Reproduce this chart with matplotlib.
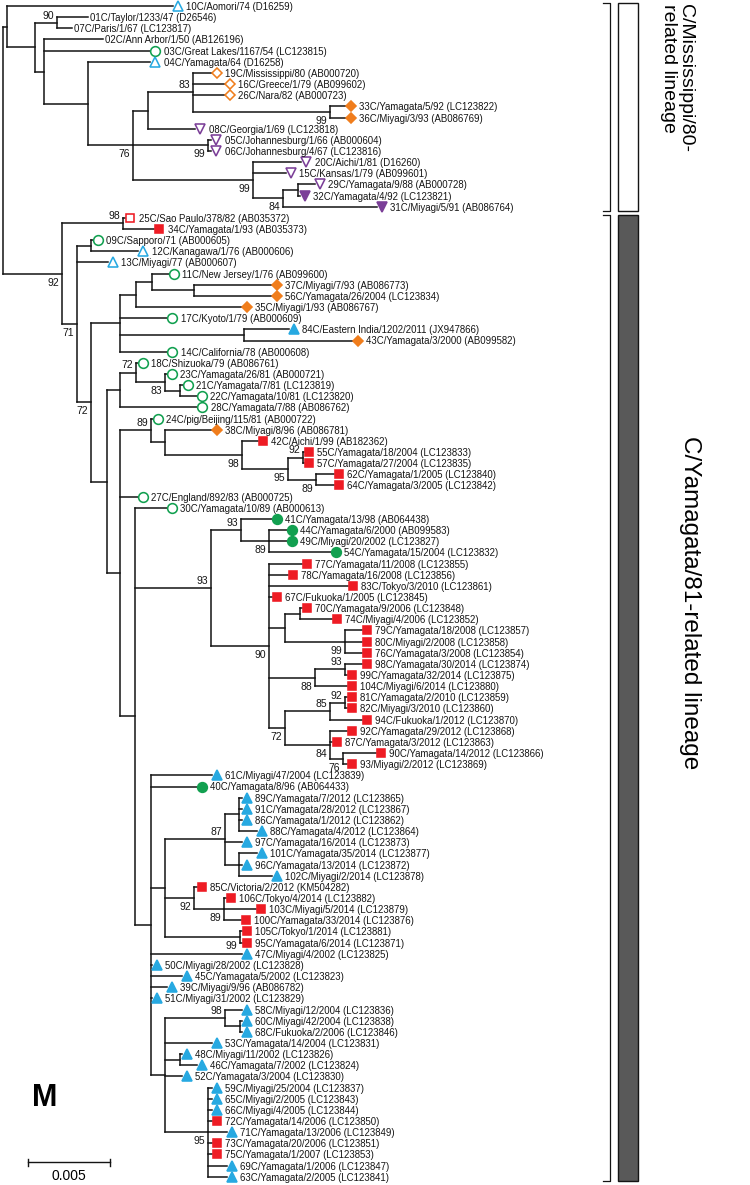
import matplotlib
matplotlib.use('Agg')
import matplotlib.pyplot as plt
from matplotlib.collections import LineCollection
from matplotlib.patches import Rectangle
from matplotlib.transforms import offset_copy, blended_transform_factory

plt.rcParams['font.family'] = ['Liberation Sans', 'DejaVu Sans']

# M gene tree, branch lengths in substitutions/site, bootstrap values >= 70
TREE = (
    "((10C:0.01008,((01C:0.00188,07C:0.00091)90:0.00134,"
    "(02C:0.00358,03C:0.00644,(04C:0.00377,"
    "(((19C:0.00115,16C:0.00194,26C:0.00194,(33C:0.00097,36C:0.00097)99:0.00832)83:0.00273,08C:0.00286):0.00091,"
    "(05C:0.00018,06C:0.00018)99:0.00456,"
    "(20C:0.00292,15C:0.00200,((29C:0.00103,32C:0.00012):0.00091,31C:0.00571)84:0.00182)99:0.00729"
    ")76:0.00273):0.00267):0.00055):0.00170):0.00024,"
    "((25C:0.00012,34C:0.00188)98:0.00371,"
    "((09C:0.00012,12C:0.00286):0.00085,13C:0.00188,"
    "((((11C:0.00103,(37C:0.00474,56C:0.00474):0.00255):0.00097,35C:0.00644):0.00097,"
    "17C:0.00286,(84C:0.00273,43C:0.00662):0.00753,14C:0.00286):0.00176,"
    "(((18C:0.00012,(23C:0.00012,(21C:0.00018,22C:0.00103):0.00091)83:0.00176)72:0.00097,28C:0.00468):0.00079,"
    "((24C:0.00012,(38C:0.00286,(42C:0.00097,((55C:0.00006,57C:0.00006)92:0.00091,"
    "(62C:0.00109,64C:0.00109)89:0.00170)95:0.00279)98:0.00468):0.00085)89:0.00188,"
    "27C:0.00109,"
    "(30C:0.00194,"
    "((41C:0.00188,(44C:0.00109,49C:0.00109,54C:0.00377)89:0.00170)93:0.00182,"
    "(77C:0.00200,78C:0.00115,83C:0.00480,67C:0.00018,"
    "((70C:0.00012,74C:0.00194):0.00091,(79C:0.00103,80C:0.00103,76C:0.00103)99:0.00365):0.00097,"
    "((98C:0.00103,99C:0.00012)93:0.00182,104C:0.00194)88:0.00279,"
    "(((81C:0.00012,82C:0.00012)92:0.00091,94C:0.00194)85:0.00273,"
    "(92C:0.00103,87C:0.00012,(90C:0.00200,93:0.00024)76:0.00079)84:0.00273)72:0.00097"
    ")90:0.00352)93:0.00462,"
    "(61C:0.00371,40C:0.00279,"
    "(((89C:0.00018,91C:0.00018,86C:0.00018,88C:0.00109):0.00085,97C:0.00103,"
    "(101C:0.00109,96C:0.00018,102C:0.00200):0.00085)87:0.00365,"
    "(85C:0.00018,(106C:0.00012,103C:0.00194,100C:0.00103)89:0.00182)92:0.00176,"
    "(105C:0.00012,95C:0.00012)99:0.00456):0.00085,"
    "47C:0.00553,50C:0.00006,45C:0.00188,39C:0.00097,51C:0.00006,"
    "((58C:0.00103,(60C:0.00012,68C:0.00012):0.00091)98:0.00365,53C:0.00286,"
    "(48C:0.00012,46C:0.00103):0.00091,52C:0.00103,"
    "(59C:0.00024,65C:0.00024,66C:0.00024,72C:0.00024,71C:0.00115,73C:0.00024,"
    "75C:0.00024,69C:0.00115,63C:0.00115)95:0.00261):0.00085"
    "):0.00097):0.00091):0.00079):0.00097)72:0.00085)71:0.00091)92:0.00358);"
)

STRAINS = [
    "10C/Aomori/74 (D16259)", "01C/Taylor/1233/47 (D26546)", "07C/Paris/1/67 (LC123817)",
    "02C/Ann Arbor/1/50 (AB126196)", "03C/Great Lakes/1167/54 (LC123815)", "04C/Yamagata/64 (D16258)",
    "19C/Mississippi/80 (AB000720)", "16C/Greece/1/79 (AB099602)", "26C/Nara/82 (AB000723)",
    "33C/Yamagata/5/92 (LC123822)", "36C/Miyagi/3/93 (AB086769)", "08C/Georgia/1/69 (LC123818)",
    "05C/Johannesburg/1/66 (AB000604)", "06C/Johannesburg/4/67 (LC123816)", "20C/Aichi/1/81 (D16260)",
    "15C/Kansas/1/79 (AB099601)", "29C/Yamagata/9/88 (AB000728)", "32C/Yamagata/4/92 (LC123821)",
    "31C/Miyagi/5/91 (AB086764)", "25C/Sao Paulo/378/82 (AB035372)", "34C/Yamagata/1/93 (AB035373)",
    "09C/Sapporo/71 (AB000605)", "12C/Kanagawa/1/76 (AB000606)", "13C/Miyagi/77 (AB000607)",
    "11C/New Jersey/1/76 (AB099600)", "37C/Miyagi/7/93 (AB086773)", "56C/Yamagata/26/2004 (LC123834)",
    "35C/Miyagi/1/93 (AB086767)", "17C/Kyoto/1/79 (AB000609)", "84C/Eastern India/1202/2011 (JX947866)",
    "43C/Yamagata/3/2000 (AB099582)", "14C/California/78 (AB000608)", "18C/Shizuoka/79 (AB086761)",
    "23C/Yamagata/26/81 (AB000721)", "21C/Yamagata/7/81 (LC123819)", "22C/Yamagata/10/81 (LC123820)",
    "28C/Yamagata/7/88 (AB086762)", "24C/pig/Beijing/115/81 (AB000722)", "38C/Miyagi/8/96 (AB086781)",
    "42C/Aichi/1/99 (AB182362)", "55C/Yamagata/18/2004 (LC123833)", "57C/Yamagata/27/2004 (LC123835)",
    "62C/Yamagata/1/2005 (LC123840)", "64C/Yamagata/3/2005 (LC123842)", "27C/England/892/83 (AB000725)",
    "30C/Yamagata/10/89 (AB000613)", "41C/Yamagata/13/98 (AB064438)", "44C/Yamagata/6/2000 (AB099583)",
    "49C/Miyagi/20/2002 (LC123827)", "54C/Yamagata/15/2004 (LC123832)", "77C/Yamagata/11/2008 (LC123855)",
    "78C/Yamagata/16/2008 (LC123856)", "83C/Tokyo/3/2010 (LC123861)", "67C/Fukuoka/1/2005 (LC123845)",
    "70C/Yamagata/9/2006 (LC123848)", "74C/Miyagi/4/2006 (LC123852)", "79C/Yamagata/18/2008 (LC123857)",
    "80C/Miyagi/2/2008 (LC123858)", "76C/Yamagata/3/2008 (LC123854)", "98C/Yamagata/30/2014 (LC123874)",
    "99C/Yamagata/32/2014 (LC123875)", "104C/Miyagi/6/2014 (LC123880)", "81C/Yamagata/2/2010 (LC123859)",
    "82C/Miyagi/3/2010 (LC123860)", "94C/Fukuoka/1/2012 (LC123870)", "92C/Yamagata/29/2012 (LC123868)",
    "87C/Yamagata/3/2012 (LC123863)", "90C/Yamagata/14/2012 (LC123866)", "93/Miyagi/2/2012 (LC123869)",
    "61C/Miyagi/47/2004 (LC123839)", "40C/Yamagata/8/96 (AB064433)", "89C/Yamagata/7/2012 (LC123865)",
    "91C/Yamagata/28/2012 (LC123867)", "86C/Yamagata/1/2012 (LC123862)", "88C/Yamagata/4/2012 (LC123864)",
    "97C/Yamagata/16/2014 (LC123873)", "101C/Yamagata/35/2014 (LC123877)", "96C/Yamagata/13/2014 (LC123872)",
    "102C/Miyagi/2/2014 (LC123878)", "85C/Victoria/2/2012 (KM504282)", "106C/Tokyo/4/2014 (LC123882)",
    "103C/Miyagi/5/2014 (LC123879)", "100C/Yamagata/33/2014 (LC123876)", "105C/Tokyo/1/2014 (LC123881)",
    "95C/Yamagata/6/2014 (LC123871)", "47C/Miyagi/4/2002 (LC123825)", "50C/Miyagi/28/2002 (LC123828)",
    "45C/Yamagata/5/2002 (LC123823)", "39C/Miyagi/9/96 (AB086782)", "51C/Miyagi/31/2002 (LC123829)",
    "58C/Miyagi/12/2004 (LC123836)", "60C/Miyagi/42/2004 (LC123838)", "68C/Fukuoka/2/2006 (LC123846)",
    "53C/Yamagata/14/2004 (LC123831)", "48C/Miyagi/11/2002 (LC123826)", "46C/Yamagata/7/2002 (LC123824)",
    "52C/Yamagata/3/2004 (LC123830)", "59C/Miyagi/25/2004 (LC123837)", "65C/Miyagi/2/2005 (LC123843)",
    "66C/Miyagi/4/2005 (LC123844)", "72C/Yamagata/14/2006 (LC123850)", "71C/Yamagata/13/2006 (LC123849)",
    "73C/Yamagata/20/2006 (LC123851)", "75C/Yamagata/1/2007 (LC123853)", "69C/Yamagata/1/2006 (LC123847)",
    "63C/Yamagata/2/2005 (LC123841)",
]

# symbol per strain (same order): upper case = open, lower case = filled, '-' = none
# B/b blue triangle, G/g green circle, O/o orange diamond, P/p purple triangle down, R/r red square
MARKS = list(
    "B---GBOOOooPPPPPPpp"
    "RrGBBGoooGboGGGGGGGorrrrrGGgggg"
    "rrrrrrrrrrrrrrrrrrr"
    "bg" "bbbbbbbb" "rrrrrr"
    "bbbbbbbbbbbbbbb" "rbrrbb"
)

LINEAGES = [
    ("C/Mississippi/80-\nrelated lineage", "10C", "31C", "white"),
    ("C/Yamagata/81-related lineage", "25C", "63C", "#595959"),
]

BLUE, GREEN, ORANGE, PURPLE, RED = "#27a9e1", "#12a050", "#f07d1c", "#7b3f98", "#ee1c24"
SYMBOL = {"b": ("^", BLUE, 7.2), "g": ("o", GREEN, 7.0), "o": ("D", ORANGE, 5.6),
          "p": ("v", PURPLE, 7.2), "r": ("s", RED, 6.4)}


def parse(s):
    s = s.replace(" ", "")
    pos = 0

    def node():
        nonlocal pos
        n = {"children": [], "name": "", "len": 0.0}
        if s[pos] == "(":
            pos += 1
            while True:
                n["children"].append(node())
                if s[pos] == ",":
                    pos += 1
                    continue
                pos += 1
                break
        start = pos
        while s[pos] not in ":,();":
            pos += 1
        n["name"] = s[start:pos]
        if s[pos] == ":":
            pos += 1
            start = pos
            while s[pos] not in ",();":
                pos += 1
            n["len"] = float(s[start:pos])
        return n
    return node()


root = parse(TREE)
leaves, nodes = [], []


def place(n, x0, parent):
    n["x"] = x0 + n["len"]
    n["parent"] = parent
    nodes.append(n)
    if not n["children"]:
        n["y"] = len(leaves)
        leaves.append(n)
    else:
        for c in n["children"]:
            place(c, n["x"], n)
        n["y"] = (n["children"][0]["y"] + n["children"][-1]["y"]) / 2


place(root, 0.0, None)

label_of = {s.split("/")[0]: s for s in STRAINS}
mark_of = {s.split("/")[0]: m for s, m in zip(STRAINS, MARKS)}
row_of = {n["name"]: n["y"] for n in leaves}

fig = plt.figure(figsize=(7.5, 11.85), dpi=100)
ax = fig.add_axes([0, 0, 1, 1])
ax.axis("off")
px = 0.005 / 82.3  # one pixel in branch-length units
ax.set_xlim(-3 * px, 747 * px)
ax.set_ylim(1179 / 11.15, -6 / 11.15)

segs = []
for n in nodes:
    if n["parent"] is not None:
        segs.append([(n["parent"]["x"], n["y"]), (n["x"], n["y"])])
    if n["children"]:
        segs.append([(n["x"], n["children"][0]["y"]), (n["x"], n["children"][-1]["y"])])
ax.add_collection(LineCollection(segs, colors="#141414", linewidths=1.1, capstyle="projecting"))

# bootstrap values
for n in nodes:
    if n["children"] and n["name"] and n["parent"] is not None:
        dy = 5.2 if n["y"] < n["parent"]["y"] else -6.5
        ax.annotate(n["name"], (n["x"], n["y"]), xytext=(-1.8, dy), textcoords="offset points",
                    ha="right", va="center", fontsize=7.5, color="#141414")

mk_tr = offset_copy(ax.transData, fig=fig, x=3.6, y=0, units="points")
for n in leaves:
    m = mark_of[n["name"]]
    if m != "-":
        shape, col, size = SYMBOL[m.lower()]
        filled = m.islower()
        ax.plot(n["x"], n["y"], marker=shape, ms=size, transform=mk_tr, ls="none",
                mfc=col if filled else "white", mec=col, mew=1.15)
    ax.annotate(label_of[n["name"]], (n["x"], n["y"]), xytext=(9.8 if m != "-" else 1.5, 0),
                textcoords="offset points", ha="left", va="center_baseline", fontsize=6.9,
                color="#141414")

# lineage bars on the right
tr = blended_transform_factory(ax.transAxes, ax.transData)
for text, first, last, face in LINEAGES:
    y0, y1 = row_of[first] - 0.3, row_of[last] + 0.4
    ax.plot([603 / 750, 610 / 750, 610 / 750, 603 / 750], [y0, y0, y1, y1],
            transform=tr, color="#141414", lw=0.9)
    ax.add_patch(Rectangle((618 / 750, y0), 20 / 750, y1 - y0, transform=tr,
                           facecolor=face, edgecolor="#141414", lw=1.0))
    if "\n" in text:
        ax.text(677 / 750, y0 + 0.1, text, transform=tr, rotation=-90, ha="center", va="top",
                fontsize=14, linespacing=1.0, multialignment="left")
    else:
        ax.text(690 / 750, (y0 + y1) / 2 - 8.5, text, transform=tr, rotation=-90,
                ha="center", va="center", fontsize=17.5)

# scale bar
yb = 103.7
ax.plot([0.0015, 0.0015 + 0.005], [yb, yb], color="#141414", lw=1.0)
for xe in (0.0015, 0.0065):
    ax.plot([xe, xe], [yb - 0.3, yb + 0.3], color="#141414", lw=1.0)
ax.text(0.0015 + 0.0025, yb + 1.25, "0.005", ha="center", va="center", fontsize=10)

fig.text(45 / 750, 1 - 1098 / 1185, "M", ha="center", va="center", fontsize=22, fontweight="bold")

fig.savefig("out.png", dpi=100)
